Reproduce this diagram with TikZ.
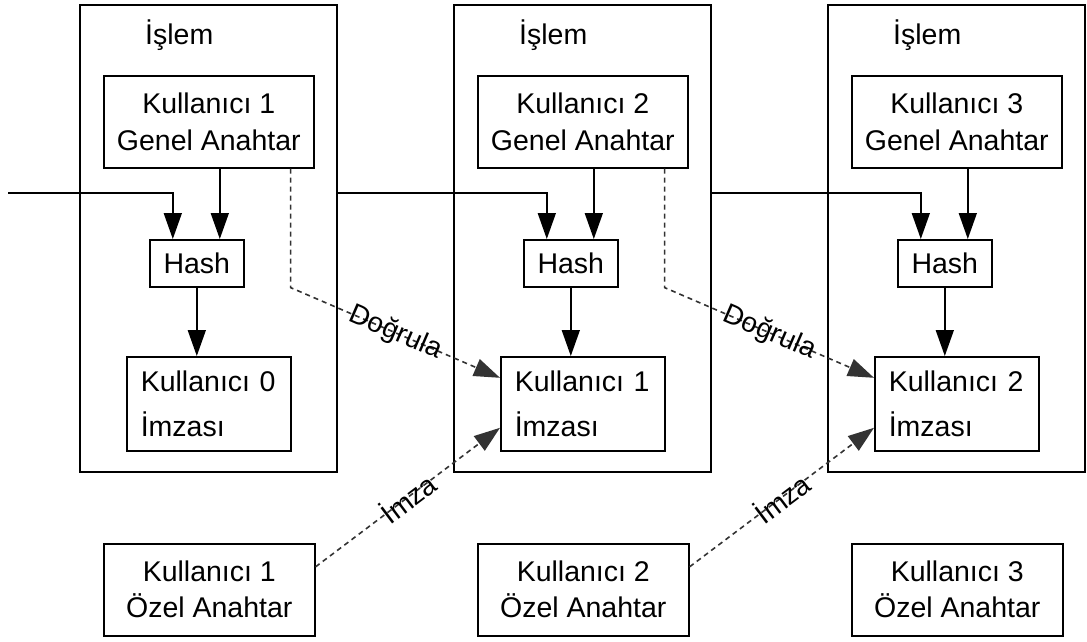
\documentclass[tikz,border=0pt]{standalone}
\usepackage{fontspec}
\setmainfont{Liberation Sans}
\usetikzlibrary{arrows.meta,calc}
\begin{document}
\begin{tikzpicture}[x=1pt,y=-1pt,
  every node/.style={font=\fontsize{28.5}{37}\selectfont},
  txbox/.style={draw,line width=1.6pt,inner sep=0pt,minimum width=257pt,minimum height=467pt,anchor=north west},
  gabox/.style={draw,line width=1.6pt,inner sep=0pt,minimum width=210pt,minimum height=92pt,anchor=north west,align=center},
  hashbox/.style={draw,line width=1.6pt,inner sep=0pt,minimum width=94pt,minimum height=47pt,anchor=north west},
  sigbox/.style={draw,line width=1.6pt,inner xsep=14pt,inner ysep=0pt,text width=136pt,minimum height=94pt,anchor=north west,align=left,font=\fontsize{28.5}{45}\selectfont},
  pkbox/.style={draw,line width=1.6pt,inner sep=0pt,minimum width=211pt,minimum height=92pt,anchor=north west,align=center,font=\fontsize{28.5}{36}\selectfont},
  title/.style={anchor=base west,inner sep=0pt},
  arr/.style={line width=1.6pt,-{Triangle[length=26pt,width=18pt]}},
  dsh/.style={line width=1.6pt,draw=black!80,dash pattern=on 5pt off 4pt,-{Triangle[length=26pt,width=18pt]}},
  lbl/.style={sloped,inner sep=0pt,font=\fontsize{28}{30}\selectfont}
]
\useasboundingbox (0,0) rectangle (1087,641);
\foreach \i/\g/\s in {0/1/0,1/2/1,2/3/2}{
  \node[txbox] (tx\i) at (79+374*\i,4) {};
  \node[title] (islem\i) at (145+374*\i,44) {İşlem};
  \node[gabox] (ga\i) at (103+374*\i,75) {Kullanıcı \g\\Genel Anahtar};
  \node[hashbox] (hash\i) at (149+374*\i,239) {Hash};
  \node[sigbox] (sig\i) at (126+374*\i,356) {Kullanıcı \s\\İmzası};
  \node[pkbox] (pk\i) at (103+374*\i,543) {Kullanıcı \g\\Özel Anahtar};
  \draw[arr] ([xshift=23pt]hash\i.north |- ga\i.south) -- ([xshift=23pt]hash\i.north);
  \draw[arr] (hash\i.south) -- (hash\i.south |- sig\i.north);
}
\coordinate (start) at (8,193);
\draw[arr] (start) -| ([xshift=-24pt]hash0.north);
\draw[arr] (tx0.east |- start) -| ([xshift=-24pt]hash1.north);
\draw[arr] (tx1.east |- start) -| ([xshift=-24pt]hash2.north);
\foreach \i/\j in {0/1,1/2}{
  \coordinate (turn\i) at ([xshift=-24pt]ga\i.south east |- hash\i.south);
  \draw[dsh] ([xshift=-24pt]ga\i.south east) -- (turn\i) -- node[lbl]{Doğrula} ([yshift=26pt]sig\j.west);
  \draw[dsh] ([yshift=23pt]pk\i.east) -- node[lbl]{İmza} ([yshift=-24pt]sig\j.west);
}
\end{tikzpicture}
\end{document}
